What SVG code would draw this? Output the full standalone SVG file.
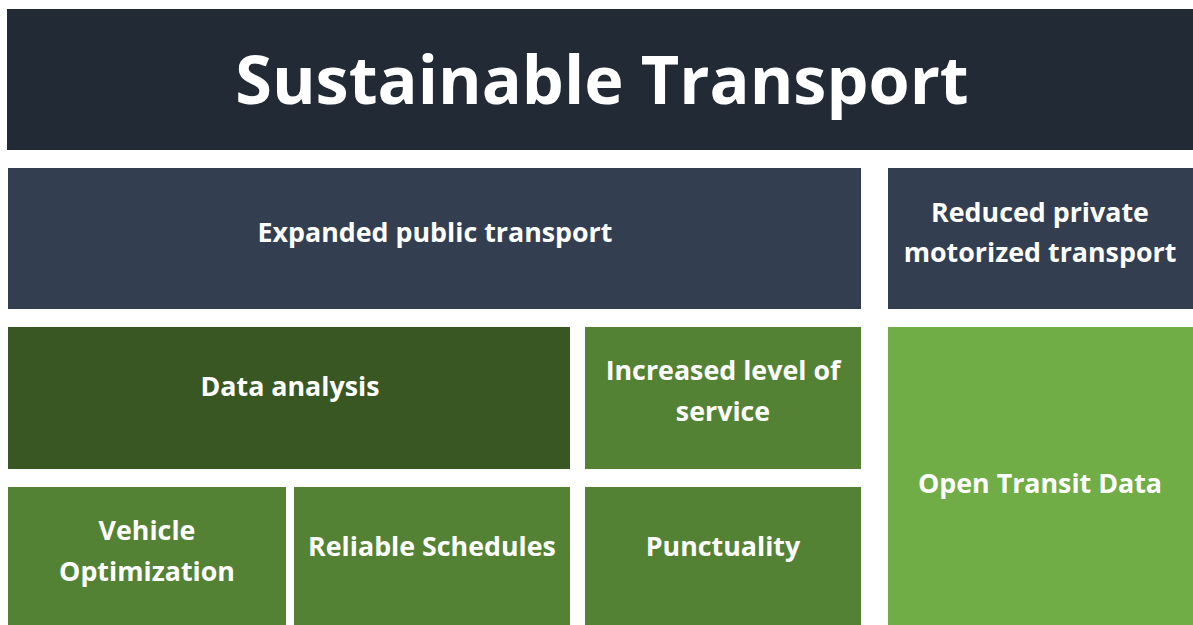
<svg xmlns="http://www.w3.org/2000/svg" width="1193" height="625" viewBox="0 0 1193 625">
<style>
text{font-family:"Open Sans","Noto Sans","Liberation Sans",sans-serif;font-weight:bold;fill:#ffffff;text-anchor:middle;}
.t{font-size:26.8px;}
.h{font-size:66.5px;}
</style>
<rect width="1193" height="625" fill="#ffffff"/>
<g id="title"><rect x="7" y="9" width="1186" height="141" fill="#222a35"/><text class="h" x="602" y="104">Sustainable Transport</text></g>
<g id="expanded"><rect x="8" y="168" width="853" height="141" fill="#333f50"/><text class="t" x="435" y="242">Expanded public transport</text></g>
<g id="reduced"><rect x="888" y="168" width="305" height="141" fill="#333f50"/><text class="t" x="1040" y="222">Reduced private</text><text class="t" x="1040" y="262">motorized transport</text></g>
<g id="data"><rect x="8" y="327" width="562" height="142" fill="#385723"/><text class="t" x="290" y="396">Data analysis</text></g>
<g id="increased"><rect x="585" y="327" width="276" height="142" fill="#548235"/><text class="t" x="723" y="380">Increased level of</text><text class="t" x="723" y="421">service</text></g>
<g id="open"><rect x="888" y="327" width="305" height="298" fill="#70ad47"/><text class="t" x="1040" y="493">Open Transit Data</text></g>
<g id="vehicle"><rect x="8" y="487" width="278" height="138" fill="#548235"/><text class="t" x="147" y="540">Vehicle</text><text class="t" x="147" y="581">Optimization</text></g>
<g id="reliable"><rect x="294" y="487" width="276" height="138" fill="#548235"/><text class="t" x="432" y="556">Reliable Schedules</text></g>
<g id="punctuality"><rect x="585" y="487" width="276" height="138" fill="#548235"/><text class="t" x="723" y="556">Punctuality</text></g>
<g id="connectors"></g>
</svg>
